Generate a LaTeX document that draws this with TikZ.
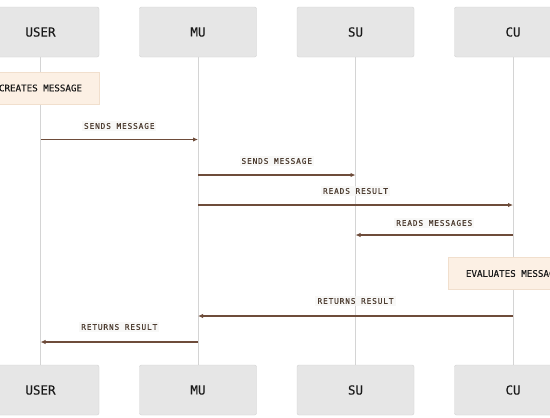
\documentclass[tikz,border=0pt]{standalone}
\usepackage{fontspec}
\setmonofont{DejaVu Sans Mono}
\newfontfamily\lblfont[LetterSpace=11,FakeBold=0.35]{DejaVu Sans Mono}
\newfontfamily\actfont[FakeBold=0.2]{DejaVu Sans Mono}
\usetikzlibrary{arrows.meta}
\definecolor{boxfill}{HTML}{E6E6E6}
\definecolor{boxdraw}{HTML}{D2D2D2}
\definecolor{lifeln}{HTML}{D4D4D4}
\definecolor{msgcol}{HTML}{6E4C3A}
\definecolor{lblcol}{HTML}{4E3E32}
\definecolor{notefill}{HTML}{FCF0E4}
\definecolor{notedraw}{HTML}{F1DFCD}
\definecolor{lblfill}{HTML}{F6F6F4}
\begin{document}
\begin{tikzpicture}[x=1pt,y=-1pt,
 actor/.style={draw=boxdraw, fill=boxfill, rounded corners=2pt, minimum width=117pt, minimum height=50pt, inner sep=0pt, font=\fontsize{12.5}{14}\selectfont\actfont, text=black!90},
 note/.style={draw=notedraw, fill=notefill, minimum height=32pt, inner sep=0pt, font=\fontsize{9.2}{11}\selectfont\actfont, text=black!90},
 life/.style={draw=lifeln, line width=0.9pt},
 msg/.style={draw=msgcol, line width=1.1pt, -{Latex[length=5pt,width=4.5pt]}},
 lbl/.style={font=\fontsize{7.8}{9}\selectfont\lblfont, text=lblcol, fill=lblfill, fill opacity=0.7, text opacity=1, inner sep=2pt}
]
\useasboundingbox (0,0) rectangle (550,418);
\clip (0,0) rectangle (550,418);
\fill[white] (0,0) rectangle (550,418);

% lifelines
\draw[life] (40.5,57) coordinate (userT) -- (40.5,365) coordinate (userB);
\draw[life] (198,57) coordinate (muT) -- (198,365) coordinate (muB);
\draw[life] (355.5,57) coordinate (suT) -- (355.5,365) coordinate (suB);
\draw[life] (513,57) coordinate (cuT) -- (513,365) coordinate (cuB);

% actors
\node[actor] (user1) at (40.5,32) {USER};
\node[actor] (mu1) at (198,32) {MU};
\node[actor] (su1) at (355.5,32) {SU};
\node[actor] (cu1) at (513,32) {CU};
\node[actor] (user2) at (40.5,390) {USER};
\node[actor] (mu2) at (198,390) {MU};
\node[actor] (su2) at (355.5,390) {SU};
\node[actor] (cu2) at (513,390) {CU};

% notes
\node[note, minimum width=117pt] (create) at (40.5,88) {CREATES MESSAGE};
\node[note, minimum width=130pt] (eval) at (513,273.5) {EVALUATES MESSAGE};

% message anchor points
\coordinate (u1) at (40.5,139.5);  \coordinate (m1) at (198,139.5);
\coordinate (m2) at (198,175);     \coordinate (s2) at (355.5,175);
\coordinate (m3) at (198,205);     \coordinate (c3) at (513,205);
\coordinate (c4) at (513,235);     \coordinate (s4) at (355.5,235);
\coordinate (c5) at (513,316);     \coordinate (m5) at (198,316);
\coordinate (m6) at (198,342);     \coordinate (u6) at (40.5,342);

% messages
\draw[msg] (u1) -- (m1);
\node[lbl] (l1) at (119.25,126) {SENDS MESSAGE};
\draw[msg] (m2) -- (s2);
\node[lbl] (l2) at (276.75,161) {SENDS MESSAGE};
\draw[msg] (m3) -- (c3);
\node[lbl] (l3) at (355.5,191) {READS RESULT};
\draw[msg] (c4) -- (s4);
\node[lbl] (l4) at (434.25,223) {READS MESSAGES};
\draw[msg] (c5) -- (m5);
\node[lbl] (l5) at (355.5,301) {RETURNS RESULT};
\draw[msg] (m6) -- (u6);
\node[lbl] (l6) at (119.25,327) {RETURNS RESULT};
\end{tikzpicture}
\end{document}
